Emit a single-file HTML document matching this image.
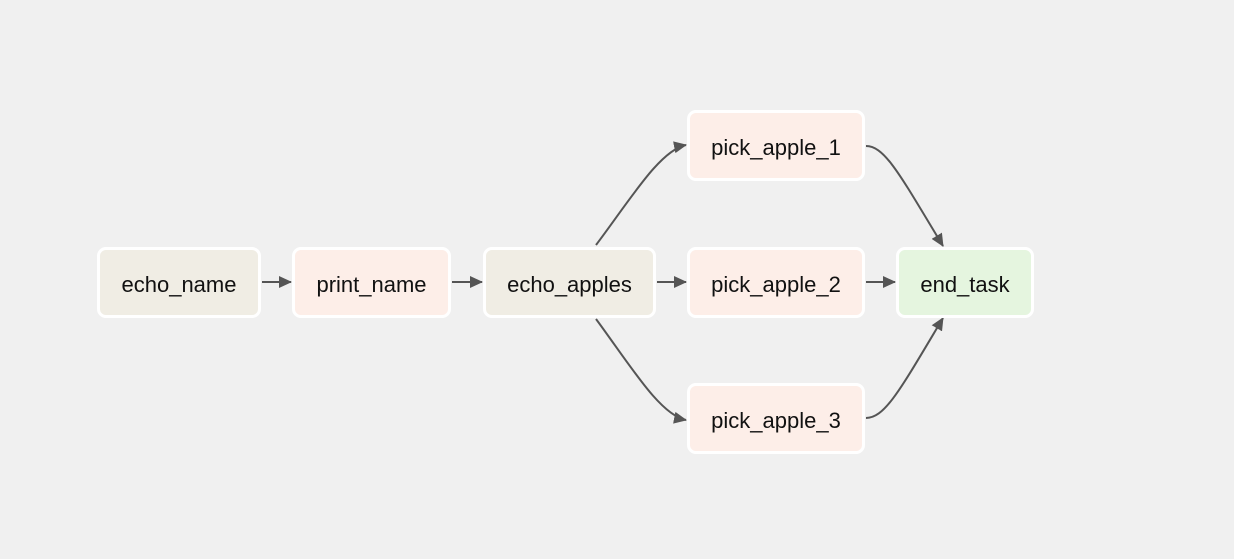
<!DOCTYPE html>
<html><head><style>
body{margin:0;width:1234px;height:559px;background:#f0f0f0;overflow:hidden;position:relative;font-family:"Liberation Sans",Arial,sans-serif}
.n{position:absolute;box-sizing:border-box;border:3px solid #fff;border-radius:9px;display:flex;align-items:center;justify-content:center;font-size:22px;color:#111;padding-top:5px}
.e{background:#f0ede4}.p{background:#fdeee8}.t{background:#e5f5df}
svg{position:absolute;left:0;top:0}
</style></head><body>
<svg width="1234" height="559">
<defs><marker id="a" markerWidth="13" markerHeight="12" refX="12" refY="6" orient="auto" markerUnits="userSpaceOnUse"><path d="M0,0L13,6L0,12z" fill="#555"/></marker></defs>
<g stroke="#555" stroke-width="2" fill="none" marker-end="url(#a)">
<path d="M262,282H291"/>
<path d="M452,282H482"/>
<path d="M657,282H686"/>
<path d="M866,282H895"/>
<path d="M596,245C630,200 660,150 686,145"/>
<path d="M596,319C630,365 660,415 686,420"/>
<path d="M866,146C885,146 900,175 943,246"/>
<path d="M866,418C885,418 900,390 943,318"/>
</g></svg>
<div class="n e" style="left:97px;top:247px;width:164px;height:71px">echo_name</div>
<div class="n p" style="left:292px;top:247px;width:159px;height:71px">print_name</div>
<div class="n e" style="left:483px;top:247px;width:173px;height:71px">echo_apples</div>
<div class="n p" style="left:687px;top:110px;width:178px;height:71px">pick_apple_1</div>
<div class="n p" style="left:687px;top:247px;width:178px;height:71px">pick_apple_2</div>
<div class="n p" style="left:687px;top:383px;width:178px;height:71px">pick_apple_3</div>
<div class="n t" style="left:896px;top:247px;width:138px;height:71px">end_task</div>
</body></html>
